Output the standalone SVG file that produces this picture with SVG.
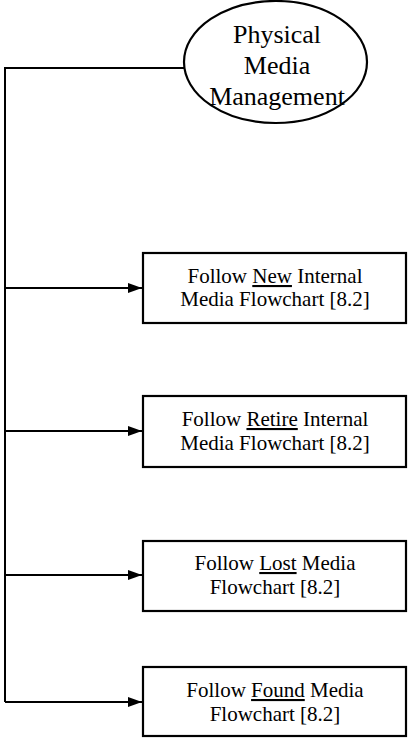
<svg xmlns="http://www.w3.org/2000/svg" width="409" height="738" viewBox="0 0 409 738">
<style>
.box{fill:#fff;stroke:#000;stroke-width:2.2}
.ln{fill:none;stroke:#000;stroke-width:2}
.t{font-family:"Liberation Serif","Times New Roman",serif;font-size:21px;text-anchor:middle;fill:#000}
.te{font-family:"Liberation Serif","Times New Roman",serif;font-size:26px;text-anchor:middle;fill:#000}
.u{text-decoration:underline}
</style>
<defs>
<marker id="ah" markerWidth="14" markerHeight="10" refX="14" refY="5" orient="auto" markerUnits="userSpaceOnUse">
<path d="M0,0 L14,5 L0,10 Z" fill="#000"/>
</marker>
</defs>
<rect width="409" height="738" fill="#fff"/>
<g id="connectors">
<path class="ln" d="M185,68 H5 V702"/>
<path class="ln" d="M5,288 H142" marker-end="url(#ah)"/>
<path class="ln" d="M5,431 H142" marker-end="url(#ah)"/>
<path class="ln" d="M5,575 H142" marker-end="url(#ah)"/>
<path class="ln" d="M5,702 H142" marker-end="url(#ah)"/>
</g>
<g id="start">
<ellipse cx="275.5" cy="62" rx="91.5" ry="61" fill="#fff" stroke="#000" stroke-width="2.2"/>
<text class="te" x="277" y="43">Physical</text>
<text class="te" x="277" y="74">Media</text>
<text class="te" x="277" y="105">Management</text>
</g>
<g id="new">
<rect class="box" x="143" y="253" width="263" height="70"/>
<text class="t" x="275" y="283">Follow <tspan class="u">New</tspan> Internal</text>
<text class="t" x="275" y="306">Media Flowchart [8.2]</text>
</g>
<g id="retire">
<rect class="box" x="143" y="396" width="263" height="71"/>
<text class="t" x="275" y="426">Follow <tspan class="u">Retire</tspan> Internal</text>
<text class="t" x="275" y="450">Media Flowchart [8.2]</text>
</g>
<g id="lost">
<rect class="box" x="143" y="541" width="263" height="70"/>
<text class="t" x="275" y="570">Follow <tspan class="u">Lost</tspan> Media</text>
<text class="t" x="275" y="594">Flowchart [8.2]</text>
</g>
<g id="found">
<rect class="box" x="143" y="667" width="263" height="69"/>
<text class="t" x="275" y="697">Follow <tspan class="u">Found</tspan> Media</text>
<text class="t" x="275" y="721">Flowchart [8.2]</text>
</g>
</svg>
